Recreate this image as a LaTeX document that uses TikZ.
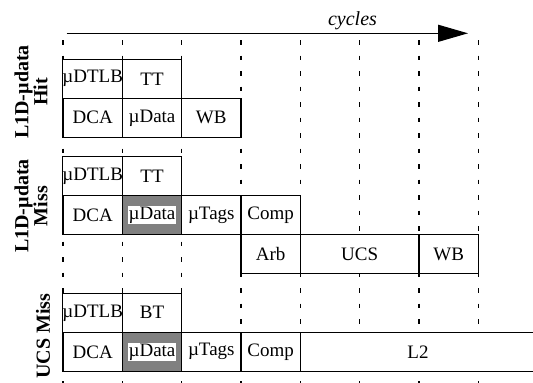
\documentclass[tikz,border=0pt]{standalone}
\usepackage{fontspec}
\setmainfont{Liberation Serif}
\usetikzlibrary{arrows.meta}
\definecolor{midgray}{RGB}{128,128,128}
\begin{document}
\begin{tikzpicture}[x=1pt,y=-1pt,
  cell/.style={draw, fill=white, line width=1.2pt, inner sep=0pt, outer sep=0pt,
    minimum width=59.33pt, minimum height=39pt, font=\fontsize{19}{22}\selectfont},
  graycell/.style={cell, fill=midgray},
  wide/.style={minimum width=#1},
  gridline/.style={line width=1.1pt, dash pattern=on 4.5pt off 11pt},
  grouplabel/.style={rotate=90, font=\fontsize{20}{15}\selectfont\bfseries, align=center, inner sep=0pt},
  timeline/.style={line width=1.3pt, -{Triangle[length=30pt,width=17pt]}},
]
\useasboundingbox (0,0) rectangle (533,383);
\clip (0,0) rectangle (533,383);
% grid lines
\foreach \k in {0,...,7}{
  \draw[gridline] (63+59.33*\k,40) -- (63+59.33*\k,383);
}
% time axis
\coordinate (a0) at (66.7,33.3);
\coordinate (a1) at (468,33.3);
\draw[timeline] (a0) -- (a1);
\node[anchor=base, font=\fontsize{20}{22}\selectfont\itshape, inner sep=0pt] (cyc) at (352.5,25) {cycles};
% group 1: L1D-udata Hit
\node[cell] (h11) at (92.67,78.8) {µDTLB};
\node[cell] (h12) at (152,78.8) {TT};
\node[cell] (h21) at (92.67,117.8) {DCA};
\node[cell] (h22) at (152,117.8) {µData};
\node[cell] (h23) at (211.3,117.8) {WB};
% group 2: L1D-udata Miss
\node[cell] (m11) at (92.67,176.2) {µDTLB};
\node[cell] (m12) at (152,176.2) {TT};
\node[cell] (m21) at (92.67,215.2) {DCA};
\node[graycell] (m22) at (152,215.2) {\setlength\fboxsep{0.8pt}\colorbox{white}{µData}};
\node[cell] (m23) at (211.3,215.2) {µTags};
\node[cell] (m24) at (270.7,215.2) {Comp};
\node[cell] (m31) at (270.7,254.2) {Arb};
\node[cell, wide=118.67pt] (m32) at (359.7,254.2) {UCS};
\node[cell] (m33) at (448.7,254.2) {WB};
% group 3: UCS Miss
\node[cell] (u11) at (92.67,312.8) {µDTLB};
\node[cell] (u12) at (152,312.8) {BT};
\node[cell] (u21) at (92.67,351.8) {DCA};
\node[graycell] (u22) at (152,351.8) {\setlength\fboxsep{0.8pt}\colorbox{white}{µData}};
\node[cell] (u23) at (211.3,351.8) {µTags};
\node[cell] (u24) at (270.7,351.8) {Comp};
\node[cell, wide=250pt] (u25) at (425.3,351.8) {};
\node[font=\fontsize{19}{22}\selectfont, inner sep=0pt] (l2) at (418,351.8) {L2};
% group labels
\node[grouplabel] (g1) at (31,92) {L1D-µdata\\Hit};
\node[grouplabel] (g2) at (31,206) {L1D-µdata\\Miss};
\node[grouplabel] (g3) at (43,336) {UCS Miss};
\end{tikzpicture}
\end{document}
